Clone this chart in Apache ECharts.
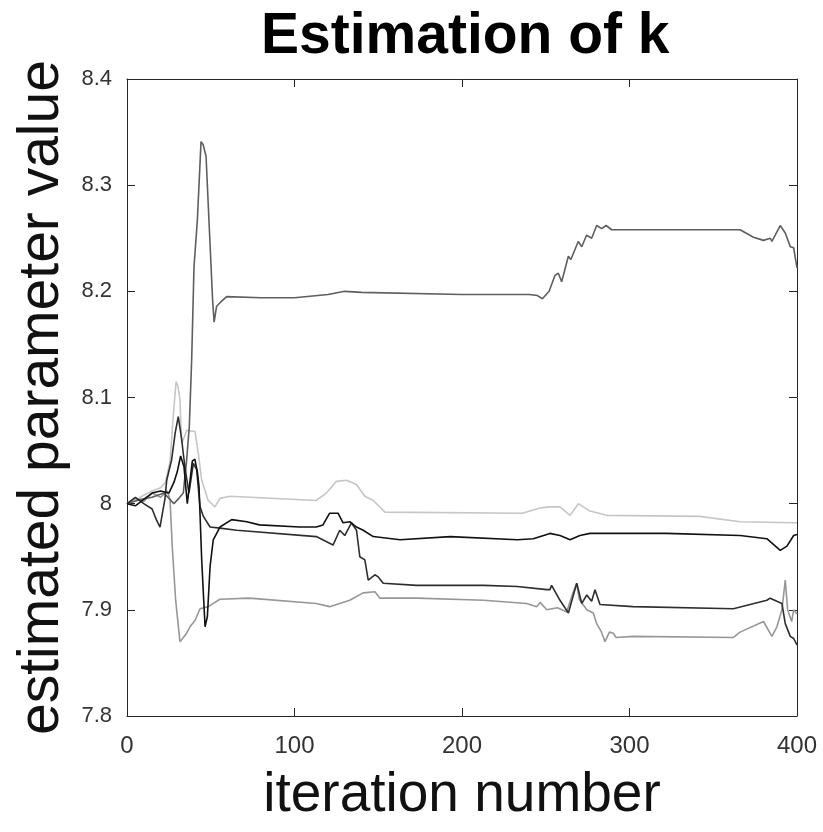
<!DOCTYPE html>
<html>
<head>
<meta charset="utf-8">
<script src="https://cdn.jsdelivr.net/npm/echarts@6/dist/echarts.min.js"></script>
<style>html,body{margin:0;padding:0;background:#fff;}#c{width:823px;height:832px;}</style>
</head>
<body>
<div id="c"></div>
<script>
var titleText = 'Estimation of k';
var xName = 'iteration number';
var yName = 'estimated parameter value';
var xTicks = [0, 100, 200, 300, 400];
var yTicks = [7.8, 7.9, 8.0, 8.1, 8.2, 8.3, 8.4];

var seriesA = [[0,8.0],[8,8.004],[15,8.006],[22,8.01],[28,8.0],[31,8.005],[33.6,8.01],[35.6,8.041],[37.2,8.073],[38.6,8.135],[40,8.223],[42,8.267],[44.2,8.341],[45.5,8.338],[47.2,8.327],[49.1,8.261],[51.1,8.192],[52,8.171],[53.5,8.186],[56,8.19],[59.5,8.195],[80,8.194],[100,8.194],[120,8.197],[130,8.2],[140,8.199],[200,8.197],[240,8.197],[245,8.196],[248,8.193],[252,8.2],[255.5,8.215],[257.5,8.217],[259.5,8.209],[263.5,8.233],[265,8.23],[269.4,8.247],[271.5,8.242],[274.4,8.253],[277.4,8.25],[280.4,8.262],[283.4,8.259],[286,8.262],[289.4,8.258],[366,8.258],[374,8.251],[380,8.248],[384,8.25],[385,8.247],[390,8.262],[393,8.255],[396,8.242],[398,8.241],[400,8.222]];
var seriesB = [[0,8.0],[5,8.003],[10,8.008],[15,8.012],[20,8.015],[23,8.02],[25.7,8.04],[27.5,8.08],[29.3,8.115],[30.5,8.11],[31.6,8.098],[32.6,8.057],[34,8.062],[35.6,8.069],[40.6,8.068],[42.6,8.047],[44.6,8.022],[48.5,8.003],[52.5,7.997],[55.5,8.005],[61.5,8.007],[113,8.003],[119,8.01],[125,8.021],[131,8.022],[137,8.018],[142,8.007],[147,8.003],[154,7.992],[236,7.991],[246.6,7.996],[252.5,7.997],[258.5,7.997],[264.5,7.989],[269.5,8.0],[276.4,7.993],[286.4,7.989],[342,7.988],[366,7.983],[397.8,7.982],[400,7.982]];
var seriesC = [[0,8.0],[5,8.006],[10,8.0],[15,7.995],[17.5,7.985],[19.7,7.978],[22.7,8.005],[23.7,8.022],[26.6,8.041],[28.7,8.066],[30.6,8.082],[32.7,8.06],[33.6,8.047],[35,8.03],[37,8.01],[39.6,8.038],[41.6,8.032],[43.6,7.997],[45.6,7.988],[49.6,7.978],[55.5,7.977],[65.5,7.975],[113,7.969],[123,7.961],[127,7.975],[130,7.97],[134,7.982],[137,7.975],[139,7.95],[142,7.947],[144,7.928],[148,7.933],[150,7.931],[153,7.925],[173,7.923],[213,7.923],[233,7.922],[250.6,7.919],[252.5,7.919],[253.5,7.923],[258.5,7.909],[263.5,7.897],[268.5,7.925],[271.5,7.906],[274.5,7.914],[277.4,7.908],[279.4,7.919],[282.4,7.905],[302,7.903],[362,7.901],[382,7.909],[384,7.911],[388,7.908],[391,7.906],[393,7.887],[396,7.875],[398,7.873],[400,7.867]];
var seriesD = [[0,8.0],[5,7.998],[10,8.004],[15,8.01],[20,8.012],[25,8.01],[28,8.02],[30,8.03],[32,8.045],[34,8.035],[36,8.0],[37.5,8.02],[39,8.04],[40.5,8.042],[42,8.03],[43,8.016],[44.6,7.947],[46.6,7.884],[48,7.894],[49.6,7.941],[51.5,7.966],[55.5,7.978],[62.5,7.985],[71.5,7.983],[79,7.98],[103,7.978],[113,7.978],[117,7.98],[121,7.991],[126,7.991],[129,7.982],[133,7.983],[137,7.978],[141,7.975],[147,7.969],[163,7.966],[193,7.969],[233,7.966],[242.6,7.967],[252.5,7.972],[258.5,7.97],[264.5,7.966],[270.4,7.97],[276.4,7.972],[322,7.972],[366,7.97],[382,7.967],[390,7.956],[394,7.96],[398,7.97],[400,7.971]];
var seriesE = [[0,8.0],[5,8.005],[10,8.002],[15,8.01],[20,8.006],[24,8.012],[25.7,8.004],[27,7.96],[29,7.91],[31.6,7.87],[32.7,7.872],[35.6,7.878],[37.6,7.884],[40.6,7.89],[43.6,7.901],[48.5,7.903],[55.5,7.91],[73,7.911],[113,7.906],[121,7.903],[133,7.909],[141,7.916],[148,7.917],[151,7.911],[173,7.911],[213,7.909],[238.6,7.906],[244.6,7.903],[246.6,7.907],[250.6,7.9],[257,7.902],[262.5,7.898],[266,7.915],[268.5,7.925],[270,7.91],[274.5,7.9],[278.4,7.897],[280.4,7.887],[283,7.88],[285.4,7.87],[288,7.879],[290.3,7.878],[292,7.874],[302,7.875],[362,7.874],[366,7.879],[380,7.889],[385,7.875],[388,7.884],[391,7.9],[393,7.928],[394.4,7.9],[396.8,7.889],[398,7.9],[400,7.896]];

var lines = [
  {name: 'run B', data: seriesB, color: '#c6c6c6'},
  {name: 'run E', data: seriesE, color: '#979797'},
  {name: 'run A', data: seriesA, color: '#5e5e5e'},
  {name: 'run C', data: seriesC, color: '#2e2e2e'},
  {name: 'run D', data: seriesD, color: '#111111'}
];

var axisColor = '#262626';
var fontFam = 'Liberation Sans, Arial, sans-serif';

var chart = echarts.init(document.getElementById('c'), null, {renderer: 'canvas'});
chart.setOption({
  backgroundColor: '#fff',
  animation: false,
  title: {
    text: titleText, left: 256, top: 4,
    textStyle: {fontSize: 57, fontWeight: 'bold', color: '#000', fontFamily: fontFam}
  },
  grid: {left: 127, right: 26, top: 79, bottom: 116, containLabel: false},
  xAxis: [{
    type: 'value', min: xTicks[0], max: xTicks[xTicks.length - 1], interval: 100,
    name: xName, nameLocation: 'middle', nameGap: 52,
    nameTextStyle: {fontSize: 55, color: '#111', fontFamily: fontFam},
    axisLine: {show: true, onZero: false, lineStyle: {color: axisColor, width: 1}},
    axisTick: {show: true, inside: true, length: 8, lineStyle: {color: axisColor}},
    axisLabel: {margin: 18, color: '#333', fontSize: 24, fontFamily: fontFam},
    splitLine: {show: false}
  }, {
    type: 'value', position: 'top', min: xTicks[0], max: xTicks[xTicks.length - 1], interval: 100,
    axisLine: {show: true, onZero: false, lineStyle: {color: axisColor, width: 1}},
    axisTick: {show: true, inside: true, length: 8, lineStyle: {color: axisColor}},
    axisLabel: {show: false}, splitLine: {show: false}
  }],
  yAxis: [{
    type: 'value', min: yTicks[0], max: yTicks[yTicks.length - 1], interval: 0.1,
    name: yName, nameLocation: 'middle', nameGap: 54, nameRotate: 90,
    nameTextStyle: {fontSize: 57, color: '#111', fontFamily: fontFam},
    axisLine: {show: true, onZero: false, lineStyle: {color: axisColor, width: 1}},
    axisTick: {show: true, inside: true, length: 8, lineStyle: {color: axisColor}},
    axisLabel: {margin: 15, color: '#333', fontSize: 22, fontFamily: fontFam,
      formatter: function (v) { return (Math.round(v * 10) / 10).toString(); }},
    splitLine: {show: false}
  }, {
    type: 'value', position: 'right', min: yTicks[0], max: yTicks[yTicks.length - 1], interval: 0.1,
    axisLine: {show: true, onZero: false, lineStyle: {color: axisColor, width: 1}},
    axisTick: {show: true, inside: true, length: 8, lineStyle: {color: axisColor}},
    axisLabel: {show: false}, splitLine: {show: false}
  }],
  series: lines.map(function (l) {
    return {
      name: l.name, type: 'line', data: l.data, xAxisIndex: 0, yAxisIndex: 0,
      showSymbol: false, symbol: 'none', smooth: false,
      lineStyle: {color: l.color, width: 1.6}
    };
  })
});
</script>
</body>
</html>
